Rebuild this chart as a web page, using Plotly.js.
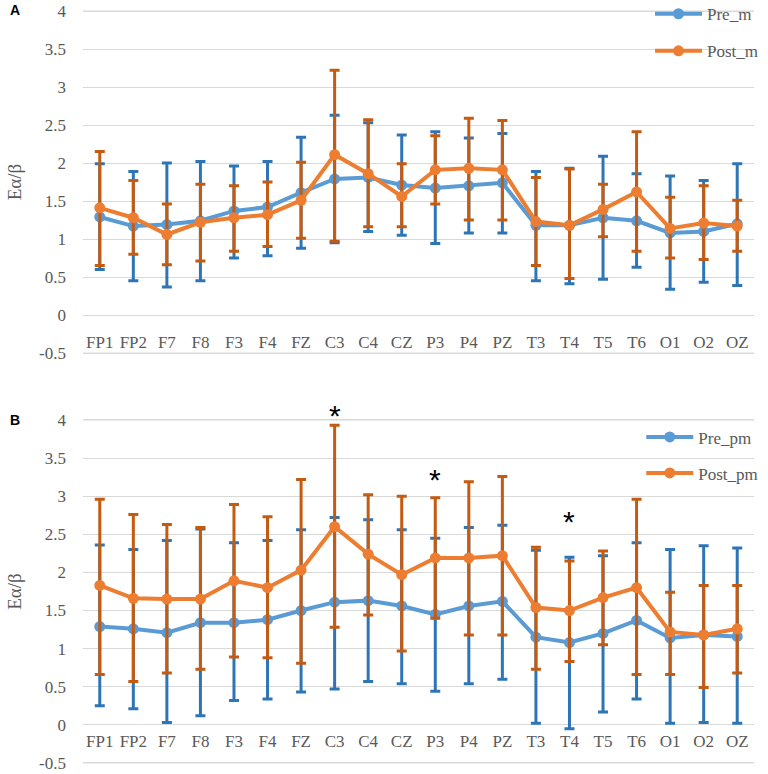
<!DOCTYPE html>
<html><head><meta charset="utf-8">
<script src="https://cdn.plot.ly/plotly-3.0.1.min.js"></script>
<style>body{margin:0;background:#fff;}</style>
</head><body><div id="chart" style="width:768px;height:774px;"></div>
<script>
const electrodes = ['FP1','FP2','F7','F8','F3','F4','FZ','C3','C4','CZ','P3','P4','PZ','T3','T4','T5','T6','O1','O2','OZ'];

// Panel A
const preM_mean = [1.29,1.17,1.19,1.24,1.37,1.42,1.61,1.79,1.81,1.71,1.67,1.70,1.74,1.18,1.18,1.28,1.24,1.08,1.10,1.20];
const preM_hi   = [1.99,1.89,2.00,2.02,1.96,2.02,2.34,2.63,2.53,2.37,2.41,2.33,2.39,1.89,1.93,2.09,1.86,1.83,1.77,1.99];
const preM_lo   = [0.60,0.45,0.37,0.45,0.75,0.78,0.88,0.95,1.10,1.05,0.94,1.08,1.08,0.45,0.41,0.47,0.63,0.34,0.43,0.39];
const postM_mean = [1.41,1.28,1.06,1.22,1.28,1.32,1.51,2.11,1.86,1.56,1.91,1.93,1.91,1.23,1.18,1.39,1.62,1.14,1.21,1.17];
const postM_hi   = [2.15,1.77,1.46,1.72,1.70,1.75,2.01,3.22,2.57,1.99,2.36,2.59,2.56,1.81,1.92,1.72,2.41,1.55,1.70,1.51];
const postM_lo   = [0.65,0.80,0.66,0.71,0.84,0.90,1.01,0.97,1.16,1.16,1.46,1.25,1.25,0.65,0.48,1.03,0.84,0.75,0.73,0.84];

// Panel B
const prePM_mean = [1.29,1.26,1.21,1.34,1.34,1.38,1.50,1.61,1.63,1.56,1.45,1.56,1.62,1.15,1.08,1.20,1.37,1.14,1.18,1.16];
const prePM_hi   = [2.36,2.30,2.42,2.57,2.39,2.42,2.56,2.72,2.69,2.56,2.45,2.59,2.62,2.29,2.20,2.22,2.39,2.30,2.35,2.32];
const prePM_lo   = [0.25,0.21,0.03,0.12,0.32,0.34,0.43,0.47,0.57,0.54,0.44,0.54,0.60,0.02,-0.05,0.17,0.34,0.02,0.03,0.02];
const postPM_mean = [1.83,1.66,1.65,1.65,1.89,1.80,2.03,2.60,2.24,1.97,2.19,2.19,2.22,1.54,1.50,1.67,1.80,1.22,1.18,1.26];
const postPM_hi   = [2.96,2.76,2.63,2.59,2.89,2.73,3.22,3.93,3.02,3.00,2.98,3.19,3.26,2.33,2.15,2.28,2.96,1.74,1.83,1.83];
const postPM_lo   = [0.66,0.57,0.68,0.73,0.89,0.88,0.81,1.28,1.44,0.97,1.40,1.18,1.18,0.73,0.83,1.05,0.66,0.66,0.49,0.68];

// significance markers (panel B)
const starCats = ['C3','P3','T4'];
const starY    = [4.13,3.28,2.73];

// y tick labels
const yTickVals = [-0.5,0,0.5,1,1.5,2,2.5,3,3.5,4];
const yTickText = ['-0.5','0','0.5','1','1.5','2','2.5','3','3.5','4'];

const BLUE='#5B9BD5', BLUE_D='#2E75B6', ORANGE='#ED7D31', ORANGE_D='#C55A11';
const SERIF='Liberation Serif, Times New Roman, serif';
const GRID='#D9D9D9';
const YMIN=-0.56, YMAX=4.06;

function tr(mean, hi, lo, name, color, ecolor, xa, ya, leg, grp){
  return {
    type:'scatter', mode:'lines+markers', x:electrodes, y:mean, name:name,
    xaxis:xa, yaxis:ya, legend:leg, legendgroup:grp, cliponaxis:false,
    line:{color:color, width:4}, marker:{color:color, size:11},
    error_y:{type:'data', symmetric:false,
      array: hi.map((h,i)=>h-mean[i]), arrayminus: mean.map((m,i)=>m-lo[i]),
      color:ecolor, thickness:3, width:5}
  };
}

const data = [
  tr(preM_mean, preM_hi, preM_lo, 'Pre_m', BLUE, BLUE_D, 'x','y','legend','a1'),
  tr(postM_mean, postM_hi, postM_lo, 'Post_m', ORANGE, ORANGE_D, 'x','y','legend','a2'),
  tr(prePM_mean, prePM_hi, prePM_lo, 'Pre_pm', BLUE, BLUE_D, 'x2','y2','legend2','b1'),
  tr(postPM_mean, postPM_hi, postPM_lo, 'Post_pm', ORANGE, ORANGE_D, 'x2','y2','legend2','b2')
];

const tickFont = {family:SERIF, size:17, color:'#595959'};
function yax(domain, anchor){
  return {domain:domain, anchor:anchor, range:[YMIN, YMAX], tickmode:'array', tickvals:yTickVals, ticktext:yTickText,
    showgrid:true, gridcolor:GRID, gridwidth:1,
    zeroline:false, showline:false, ticks:'', tickfont:tickFont, ticklabelstandoff:16,
    title:{text:'Eα/β', font:{family:SERIF, size:19, color:'#595959'}, standoff:12}};
}
function xax(anchorPos, standoff){
  return {type:'category', categoryorder:'array', categoryarray:electrodes, range:[-0.5,19.5],
    anchor:'free', position:anchorPos, showgrid:false, zeroline:false, showline:false, ticks:'',
    tickfont:tickFont, ticklabelstandoff:standoff};
}

// outer gridlines (first and last tick) drawn as shapes
const edgeVals = [yTickVals[0], yTickVals[yTickVals.length-1]];
const shapes = [];
['y','y2'].forEach(ya=>{
  edgeVals.forEach(v=>shapes.push({type:'line', layer:'above', xref:'paper', yref:ya, x0:0, x1:1, y0:v, y1:v,
    line:{color:GRID, width:1}}));
});

const annotations = starCats.map((c,i)=>({x:c, y:(starY[i]-YMIN)/(YMAX-YMIN), xref:'x2', yref:'y2 domain', text:'*', showarrow:false,
  font:{family:'Liberation Sans, Arial, sans-serif', size:30, color:'#000'}, yanchor:'middle', yshift:-5}));
annotations.push({xref:'paper', yref:'paper', x:-0.112, y:0.9922, xanchor:'left', yanchor:'middle', text:'<b>A</b>', showarrow:false,
  font:{family:'Liberation Sans, Arial, sans-serif', size:14, color:'#000'}});
annotations.push({xref:'paper', yref:'paper', x:-0.112, y:0.4569, xanchor:'left', yanchor:'middle', text:'<b>B</b>', showarrow:false,
  font:{family:'Liberation Sans, Arial, sans-serif', size:14, color:'#000'}});

const legFont = {family:SERIF, size:17, color:'#595959'};
const layout = {
  width:768, height:774, margin:{l:83, r:14, t:4, b:4, autoexpand:false},
  paper_bgcolor:'#fff', plot_bgcolor:'#fff', showlegend:true,
  xaxis: xax(0.5931, 14), yaxis: yax([0.5384,0.9968],'x'),
  xaxis2: xax(0.0584, 4), yaxis2: yax([0.0032,0.4629],'x2'),
  legend:{x:0.845, y:1.0102, xanchor:'left', yanchor:'top', bgcolor:'rgba(0,0,0,0)', font:legFont, itemwidth:47, tracegroupgap:12},
  legend2:{x:0.832, y:0.4578, xanchor:'left', yanchor:'top', bgcolor:'rgba(0,0,0,0)', font:legFont, itemwidth:47, tracegroupgap:11},
  shapes: shapes,
  annotations: annotations
};

Plotly.newPlot('chart', data, layout, {displayModeBar:false, staticPlot:true});
</script></body></html>
